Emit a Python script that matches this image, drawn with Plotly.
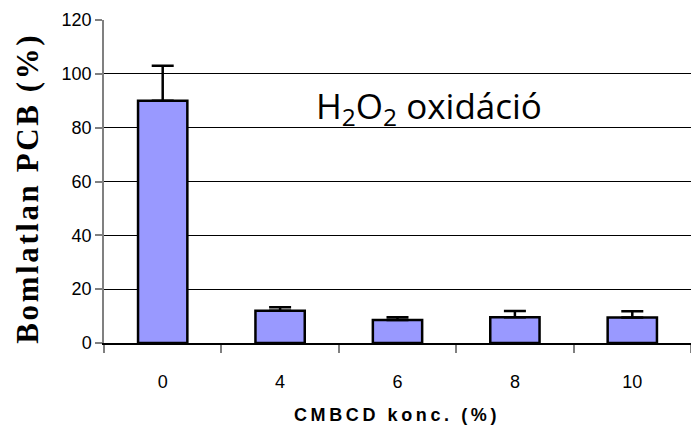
import plotly.graph_objects as go

categories = ["0", "4", "6", "8", "10"]
values = [90, 12, 8.5, 9.6, 9.5]
errors = [13, 1.3, 1.1, 2.3, 2.3]
yticks = [0, 20, 40, 60, 80, 100, 120]

def spaced(s, sep="\u2009"):
    return sep.join(list(s))

fig = go.Figure()
fig.add_trace(go.Bar(
    x=categories, y=values,
    width=0.42,
    marker=dict(color="#9999FF", line=dict(color="black", width=2.5)),
    error_y=dict(type="data", array=errors, symmetric=False, arrayminus=[0]*5,
                 color="black", thickness=2.5, width=11),
))

fig.update_layout(
    width=691, height=440,
    margin=dict(l=104, r=0, t=20, b=97),
    paper_bgcolor="white", plot_bgcolor="white",
    showlegend=False,
    font=dict(family="Liberation Sans, Arial", color="black"),
    xaxis=dict(
        type="category", tickson="boundaries", ticks="outside", ticklen=8,
        tickcolor="#808080", tickwidth=1.5,
        showline=True, linecolor="black", linewidth=1.5,
        tickfont=dict(size=18), ticklabelstandoff=22,
        showgrid=False,
    ),
    yaxis=dict(
        range=[0, 120], tickvals=yticks, ticks="outside", ticklen=7,
        tickcolor="#808080", tickwidth=1.5,
        showline=True, linecolor="#808080", linewidth=1.5,
        showgrid=True, gridcolor="black", gridwidth=1,
        zeroline=False,
        tickfont=dict(size=18),
    ),
    annotations=[
        dict(text="H<sub>2</sub>O<sub>2</sub> oxidáció", xref="paper", yref="paper",
             x=0.553, y=0.815, showarrow=False,
             font=dict(family="Open Sans", size=35, color="black")),
        dict(text="<b>" + spaced("Bomlatlan PCB (%)", "\u200a") + "</b>", xref="paper", yref="paper",
             x=-0.131, xanchor="center", y=0.475, yanchor="middle", textangle=-90, showarrow=False,
             font=dict(family="Liberation Serif", size=31, color="black")),
        dict(text="<b>" + spaced("CMBCD konc. (%)") + "</b>", xref="paper", yref="paper",
             x=0.496, y=-0.26, showarrow=False,
             font=dict(family="Liberation Sans", size=18, color="black")),
    ],
)

fig.write_html("out.html")
